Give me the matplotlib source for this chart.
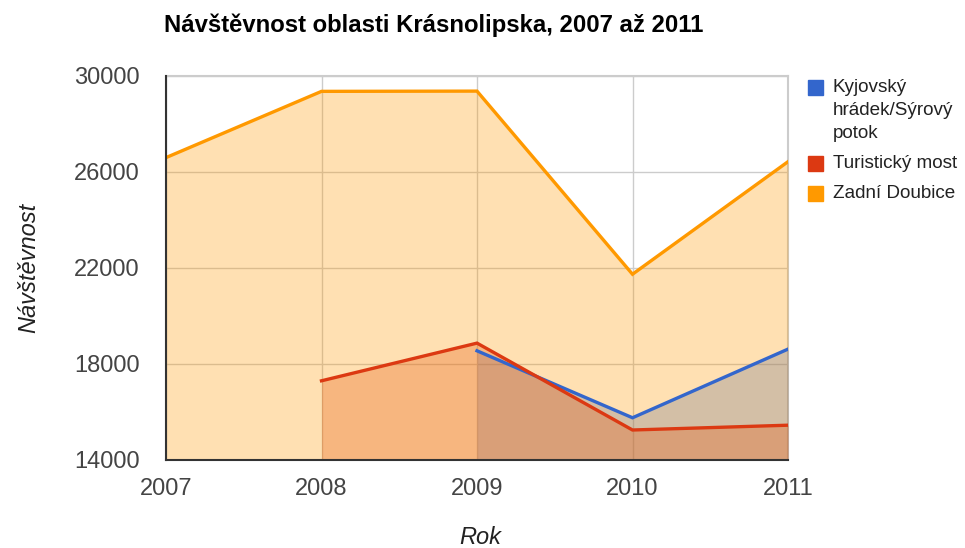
import matplotlib
matplotlib.use("Agg")
import matplotlib.pyplot as plt
import numpy as np
from matplotlib.patches import Rectangle

plt.rcParams['font.family'] = ['Liberation Sans', 'DejaVu Sans']

years = [2007, 2008, 2009, 2010, 2011]
series_names = ["Kyjovský\nhrádek/Sýrový\npotok", "Turistický most", "Zadní Doubice"]
kyjovsky = [np.nan, np.nan, 18550, 15760, 18620]
turisticky = [np.nan, 17300, 18870, 15250, 15450]
zadni = [26600, 29360, 29370, 21740, 26430]
colors = ["#3366cc", "#dc3912", "#ff9900"]
yticks = [14000, 18000, 22000, 26000, 30000]

title = "Návštěvnost oblasti Krásnolipska, 2007 až 2011"
xlabel = "Rok"
ylabel = "Návštěvnost"

fig = plt.figure(figsize=(9.65, 5.48), dpi=100)
ax = fig.add_axes([166/965, 1-460/548, (788-166)/965, (460-76)/548])

base = yticks[0]
for vals, c in zip([kyjovsky, turisticky, zadni], colors):
    x = np.array(years, dtype=float)
    v = np.array(vals, dtype=float)
    m = ~np.isnan(v)
    ax.fill_between(x[m], v[m], base, color=c, alpha=0.3, lw=0, zorder=2)
for vals, c in zip([kyjovsky, turisticky, zadni], colors):
    x = np.array(years, dtype=float)
    v = np.array(vals, dtype=float)
    m = ~np.isnan(v)
    ax.plot(x[m], v[m], color=c, lw=2.4, zorder=3, solid_joinstyle='miter')

ax.set_xlim(years[0], years[-1])
ax.set_ylim(yticks[0], yticks[-1])
ax.set_xticks(years)
ax.set_yticks(yticks)
ax.set_xticklabels([str(y) for y in years])
ax.grid(True, color="#cccccc", lw=1, zorder=1)
ax.set_axisbelow(True)
for s in ["top", "right"]:
    ax.spines[s].set_visible(False)
for s in ["left", "bottom"]:
    ax.spines[s].set_color("#333333")
    ax.spines[s].set_linewidth(1.5)
    ax.spines[s].set_zorder(4)
ax.axhline(yticks[-1], color="#cccccc", lw=1.5, zorder=1, clip_on=False)
ax.axvline(years[-1], color="#cccccc", lw=1.5, zorder=1, clip_on=False)

ax.tick_params(axis='both', length=0, labelsize=17, labelcolor="#444444")
ax.tick_params(axis='y', pad=19)
ax.tick_params(axis='x', pad=13)

ax.set_ylabel(ylabel, fontsize=17, style='italic', color="#222222", labelpad=24)
fig.text(480/965, 1-538/548, xlabel, fontsize=17, style='italic', color="#222222",
         ha='center', va='center')

fig.text(164/965, 1-25/548, title, fontsize=17.2, fontweight='bold', color="black",
         ha='left', va='center')

# legend
leg_y = [87, 163, 193]
for name, c, yy in zip(series_names, colors, leg_y):
    fig.patches.append(Rectangle((808/965, 1-(yy+8)/548), 15/965, 15/548,
                                 transform=fig.transFigure, color=c, figure=fig))
    fig.text(833/965, 1-(yy-8)/548, name, fontsize=13.6, color="#222222",
             ha='left', va='top', linespacing=1.45)

fig.savefig("out.png", dpi=100)
